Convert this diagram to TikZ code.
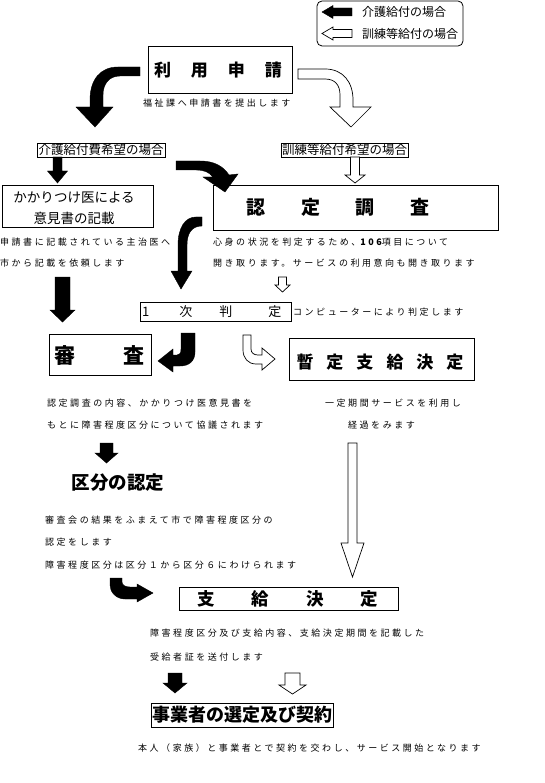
\documentclass[tikz,border=0pt]{standalone}
\usepackage{fontspec}
\setmainfont{Noto Sans CJK JP}
\newfontfamily\smf[LetterSpace=28]{Noto Sans CJK JP}
\begin{document}
\begin{tikzpicture}[x=1pt,y=-1pt,
  blk/.style={fill=black,draw=black,line width=0.4pt},
  wht/.style={fill=white,draw=black,line width=0.7pt},
  box/.style={draw,line width=0.8pt,inner sep=0pt},
  small/.style={font=\smf\fontsize{9}{9}\selectfont,inner sep=0pt,anchor=west},
  lab/.style={font=\fontsize{12.5}{12.5}\selectfont,inner sep=0pt},
  ttl/.style={font=\bfseries\fontsize{#1}{#1}\selectfont,inner sep=0pt}]
\useasboundingbox (0,0) rectangle (544,783);
\fill[white] (0,0) rectangle (544,783);

% legend
\node[draw,line width=0.8pt,rounded corners=5pt,minimum width=146pt,minimum height=45pt,inner sep=0pt] (legend) at (390,23.5) {};
\draw[blk] (322,12) -- (333,5.5) -- (333,8) -- (352,8) -- (352,16) -- (333,16) -- (333,18.5) -- cycle;
\draw[wht] (322,33.5) -- (333,27) -- (333,29.5) -- (352,29.5) -- (352,37.5) -- (333,37.5) -- (333,40) -- cycle;
\node[lab,anchor=west,font=\fontsize{12}{12}\selectfont] (leg1) at (362,12) {介護給付の場合};
\node[lab,anchor=west,font=\fontsize{12}{12}\selectfont] (leg2) at (362,34) {訓練等給付の場合};

% application
\node[box,minimum width=144pt,minimum height=47pt] (req) at (220,69.5) {};
\node[ttl=17] (reqT) at (218,70) {利\hspace{20pt}用\hspace{20pt}申\hspace{20pt}請};
\node[small] (reqS) at (143,103) {福祉課へ申請書を提出します};

% curved arrows from application
\draw[blk] (140,67) -- (118,67) .. controls (100,67) and (90,80) .. (90,100) -- (90,107) -- (76,107) -- (95,127) -- (113,107) -- (103,107) -- (103,95) .. controls (103,84) and (109,76) .. (120,76) -- (140,76) -- cycle;
\draw[wht] (298,69) -- (325,69) .. controls (343,69) and (353,82) .. (353,100) -- (353,107) -- (371,107) -- (351,127) -- (330,107) -- (340,107) -- (340,95) .. controls (340,85) and (335,79) .. (325,79) -- (298,79) -- cycle;

% choice boxes
\node[box,minimum width=128pt,minimum height=14pt,lab] (kaigo) at (101,150) {介護給付費希望の場合};
\node[box,minimum width=127pt,minimum height=14pt,lab] (kunren) at (344.5,150) {訓練等給付希望の場合};

\draw[blk] (53,157) -- (62,157) -- (62,171) -- (67.5,171) -- (57.5,183) -- (47.5,171) -- (53,171) -- cycle;
\draw[wht] (350.5,157) -- (359.5,157) -- (359.5,175) -- (365,175) -- (355,183) -- (345,175) -- (350.5,175) -- cycle;

% doctor
\node[box,minimum width=151pt,minimum height=42pt] (doc) at (77.5,206) {};
\node[inner sep=0pt,font=\fontsize{13.5}{21}\selectfont,align=center] (docT) at (74,208.5) {かかりつけ医による\\意見書の記載};
\node[small] (docS1) at (0,242) {申請書に記載されている主治医へ};
\node[small] (docS2) at (0,263) {市から記載を依頼します};

% black arrow to survey
\draw[blk] (176,161) -- (200,161) .. controls (214,161) and (223,166) .. (229,175) -- (238,174) -- (225,192) -- (203,177) -- (213,177) .. controls (209,172) and (204,170) .. (196,170) -- (176,170) -- cycle;

% survey
\node[box,minimum width=285pt,minimum height=45pt] (survey) at (355.5,207.5) {};
\node[ttl=19] (surveyT) at (338,207) {認\hspace{35.7pt}定\hspace{35.7pt}調\hspace{35.7pt}査};
\node[small] (surS1) at (213,242) {心身の状況を判定するため、{\bfseries 106}項目について};
\node[small] (surS2) at (213,263) {開き取ります。サービスの利用意向も開き取ります};

% arrow from survey down to first judgement
\draw[blk] (202,217) -- (196,217) .. controls (185,217) and (178,228) .. (178,245) -- (178,271) -- (171,271) -- (181,289) -- (192,271) -- (187,271) -- (187,245) .. controls (187,233) and (192,226) .. (202,226) -- cycle;
\draw[wht] (278.5,277) -- (286.5,277) -- (286.5,285) -- (290,285) -- (282.5,292) -- (275,285) -- (278.5,285) -- cycle;

% first judgement
\node[box,minimum width=151pt,minimum height=19pt] (first) at (215.5,311.5) {};
\node[inner sep=0pt,anchor=west,font=\fontsize{13}{13}\selectfont] (firstT) at (142,311.5) {1\hspace{30pt}次\hspace{27pt}判\hspace{36pt}定};
\node[small] (firstS) at (293,312) {コンピューターにより判定します};

% black arrow down to review
\draw[blk] (55,277) -- (70,277) -- (70,310) -- (75,310) -- (62.5,322) -- (50,310) -- (55,310) -- cycle;

% review
\node[box,minimum width=102pt,minimum height=41pt] (review) at (100,354.5) {};
\node[ttl=21] (reviewT) at (99.5,355) {審\hspace{49pt}査};

% hook arrows
\draw[blk] (181,333) -- (195,333) -- (195,352) .. controls (195,361) and (189,366) .. (180,366) -- (173,366) -- (173,372) -- (158,361) -- (173,349) -- (173,355) -- (177,355) .. controls (180,355) and (181,353) .. (181,349) -- cycle;
\draw[wht] (243,335) -- (251,335) -- (251,349) .. controls (251,353) and (254,355) .. (258,355) -- (262,355) -- (262,348) -- (275,359) -- (262,370) -- (262,364) -- (256,364) .. controls (248,364) and (243,358) .. (243,350) -- cycle;

% provisional
\node[box,minimum width=185pt,minimum height=42pt] (prov) at (381.5,359) {};
\node[ttl=17] (provT) at (380,362) {暫\hspace{13pt}定\hspace{13pt}支\hspace{13pt}給\hspace{13pt}決\hspace{13pt}定};

\node[small] (revS1) at (47,403) {認定調査の内容、かかりつけ医意見書を};
\node[small] (revS2) at (47,425) {もとに障害程度区分について協議されます};
\node[small] (provS1) at (325,403) {一定期間サービスを利用し};
\node[small] (provS2) at (348,425) {経過をみます};

% classification
\draw[blk] (100,443) -- (113,443) -- (113,453) -- (118,453) -- (106.5,463) -- (95,453) -- (100,453) -- cycle;
\node[ttl=18.5] (cls) at (118,482.5) {区分の認定};
\node[small] (clsS1) at (45,520) {審査会の結果をふまえて市で障害程度区分の};
\node[small] (clsS2) at (45,542) {認定をします};
\node[small] (clsS3) at (45,565) {障害程度区分は区分１から区分６にわけられます};

% long white arrow
\draw[wht] (348,443) -- (357,443) -- (357,543) -- (364,543) -- (352.5,577) -- (341,543) -- (348,543) -- cycle;

% bent black arrow
\draw[blk] (110,578) -- (122,578) -- (122,582) .. controls (122,585) and (125,587) .. (130,587) -- (137,587) -- (137,584) -- (153,593) -- (137,602) -- (137,599) -- (125,599) .. controls (116,599) and (110,592) .. (110,585) -- cycle;

% decision
\node[box,minimum width=219pt,minimum height=23pt] (dec) at (288.5,598.5) {};
\node[ttl=17.5] (decT) at (288,598.5) {支\hspace{37pt}給\hspace{37pt}決\hspace{37pt}定};
\node[small] (decS1) at (150,633) {障害程度区分及び支給内容、支給決定期間を記載した};
\node[small] (decS2) at (150,657) {受給者証を送付します};

\draw[blk] (168,673) -- (182,673) -- (182,683) -- (187,683) -- (175,693) -- (163,683) -- (168,683) -- cycle;
\draw[wht] (285,673) -- (300,673) -- (300,685) -- (306,685) -- (292.5,694) -- (279,685) -- (285,685) -- cycle;

% contract
\node[box,minimum width=182pt,minimum height=24pt] (con) at (242,715) {};
\node[ttl=18] (conT) at (242,715) {事業者の選定及び契約};
\node[small] (conS) at (138,748) {本人（家族）と事業者とで契約を交わし、サービス開始となります};
\end{tikzpicture}
\end{document}
